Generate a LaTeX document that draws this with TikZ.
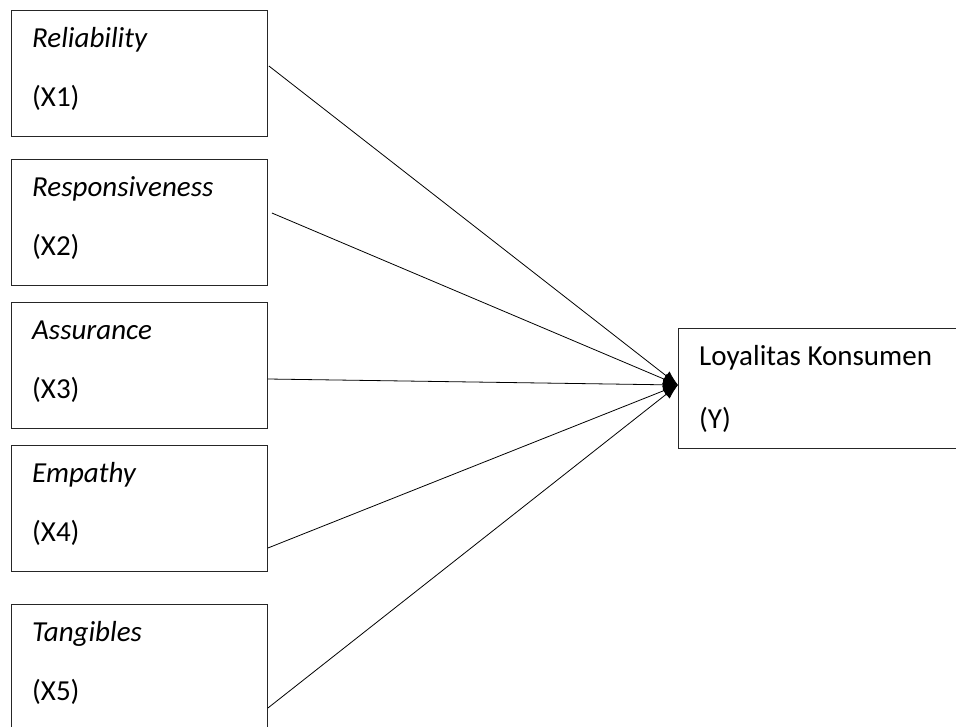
\documentclass[tikz,border=0pt]{standalone}
\usepackage{fontspec}
\setmainfont{Carlito}
\usetikzlibrary{arrows.meta}
\tikzset{
    varbox/.style={draw=black!85, line width=0.9pt, rectangle, anchor=north west,
        minimum width=256pt, minimum height=126pt, inner sep=0pt},
    lbl/.style={anchor=base west, inner sep=0pt, font=\fontsize{29}{35}\selectfont},
    conn/.style={line width=0.8pt, -{Latex[length=15pt,width=11pt]}}
}

\begin{document}
\begin{tikzpicture}[x=1pt,y=-1pt]
    \clip (0,0) rectangle (956,726);

    % Draw the independent variables
    \foreach \i/\ytop/\name in {1/10/Reliability, 2/159/Responsiveness, 3/302/Assurance, 4/445/Empathy, 5/604/Tangibles} {
        \node[varbox] (x\i) at (11,\ytop) {};
        \node[lbl] (n\i) at ([xshift=21pt,yshift=-37pt]x\i.north west) {\textit{\name}};
        \node[lbl] (c\i) at ([xshift=21pt,yshift=-96pt]x\i.north west) {(X\i)};
    }

    % Draw the dependent variable
    \node[varbox, minimum width=290pt, minimum height=120pt] (y) at (678,328) {};
    \node[lbl] (ny) at ([xshift=21pt,yshift=-37pt]y.north west) {Loyalitas Konsumen};
    \node[lbl] (cy) at ([xshift=21pt,yshift=-100pt]y.north west) {(Y)};

    % Draw arrows to Y
    \coordinate (tip) at (678,385);
    \foreach \i/\dx/\dy in {1/1/56, 2/4/54, 3/0/77, 4/0/103, 5/0/104} {
        \draw[conn] ([xshift=\dx pt,yshift=-\dy pt]x\i.north east) -- (tip);
    }
\end{tikzpicture}
\end{document}
